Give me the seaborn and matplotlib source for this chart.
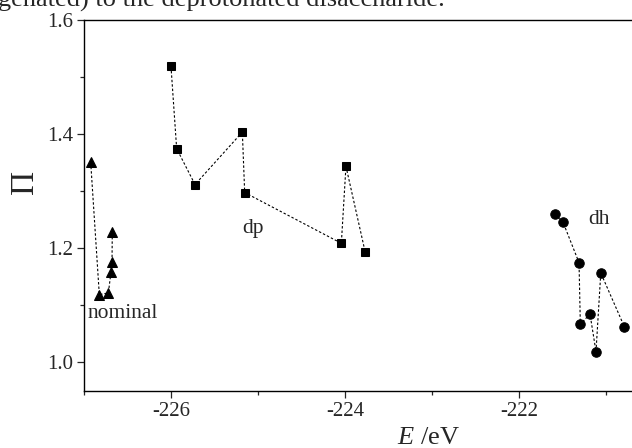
import numpy as np
import pandas as pd
import matplotlib
matplotlib.use("Agg")
import matplotlib.pyplot as plt
from matplotlib.ticker import MultipleLocator
import seaborn as sns

# data
nominal_E = [-226.923, -226.824, -226.720, -226.690, -226.678, -226.675]
nominal_P = [1.351, 1.119, 1.122, 1.158, 1.176, 1.228]

dp_E = [-226.000, -225.935, -225.724, -225.180, -225.153, -224.042, -223.989, -223.767]
dp_P = [1.519, 1.375, 1.312, 1.404, 1.298, 1.209, 1.344, 1.193]

dh_E = [-221.590, -221.494, -221.310, -221.295, -221.184, -221.115, -221.060, -220.790]
dh_P = [1.260, 1.246, 1.175, 1.067, 1.085, 1.019, 1.157, 1.063]

sns.set_style("ticks")
plt.rcParams['font.family'] = ['Liberation Serif', 'DejaVu Serif']
plt.rcParams['mathtext.fontset'] = 'custom'
plt.rcParams['mathtext.rm'] = 'Liberation Serif'
plt.rcParams['mathtext.it'] = 'Liberation Serif:italic'
plt.rcParams['axes.unicode_minus'] = False

fig = plt.figure(figsize=(6.32, 4.48), dpi=100)
ax = fig.add_axes([84/632, 57/448, 548/632, 370.7/448])

groups = [(nominal_E, nominal_P, '^', 7.5),
          (dp_E, dp_P, 's', 6),
          (dh_E, dh_P, 'o', 6.8)]
for E, P, m, ms in groups:
    df = pd.DataFrame({"E": E, "P": P})
    sns.lineplot(data=df, x="E", y="P", sort=False, estimator=None, ax=ax,
                 color="black", linewidth=0.8, linestyle=(0, (2.2, 1.8)),
                 marker=m, markersize=ms, markeredgecolor="black",
                 markerfacecolor="black")

ax.set_xlim(-227, -227 + 548/87)
ax.set_ylim(0.95, 1.6)
ax.xaxis.set_major_locator(MultipleLocator(2))
ax.xaxis.set_minor_locator(MultipleLocator(1))
ax.yaxis.set_major_locator(MultipleLocator(0.2))
ax.yaxis.set_minor_locator(MultipleLocator(0.1))
ax.set_yticks([1.0, 1.2, 1.4, 1.6])
ax.set_yticklabels(["1.0", "1.2", "1.4", "1.6"])
ax.set_xticks([-226, -224, -222])
ax.set_xticklabels(["-226", "-224", "-222"])

ax.tick_params(which='major', length=5, width=0.9, labelsize=15, pad=3)
ax.tick_params(which='minor', length=3, width=0.9)
ax.tick_params(top=False, right=False, which='both')
for s in ['left', 'bottom', 'top']:
    ax.spines[s].set_linewidth(1.0)
    ax.spines[s].set_color('black')
ax.spines['right'].set_visible(False)

ax.set_xlabel("$E$ /eV", fontsize=19)
ax.xaxis.label.set_va('baseline')
ax.xaxis.set_label_coords((428-84)/548, (391-444)/370.7)
ax.set_ylabel("Π", fontsize=24)
ax.yaxis.label.set_va('center')
ax.yaxis.set_label_coords((25-84)/548, (391-182)/370.7)

ax.text(-226.552, 1.078, "nominal", fontsize=15.5, ha='center', va='baseline')
ax.text(-225.06, 1.227, "dp", fontsize=15.5, ha='center', va='baseline')
ax.text(-221.078, 1.2433, "dh", fontsize=15.5, ha='center', va='baseline')

# cropped caption line at top of page
fig.text(-0.003, 1 - 7/448, "genated) to the deprotonated disaccharide.",
         fontsize=19, ha='left', va='baseline')

fig.savefig("out.png", dpi=100)
